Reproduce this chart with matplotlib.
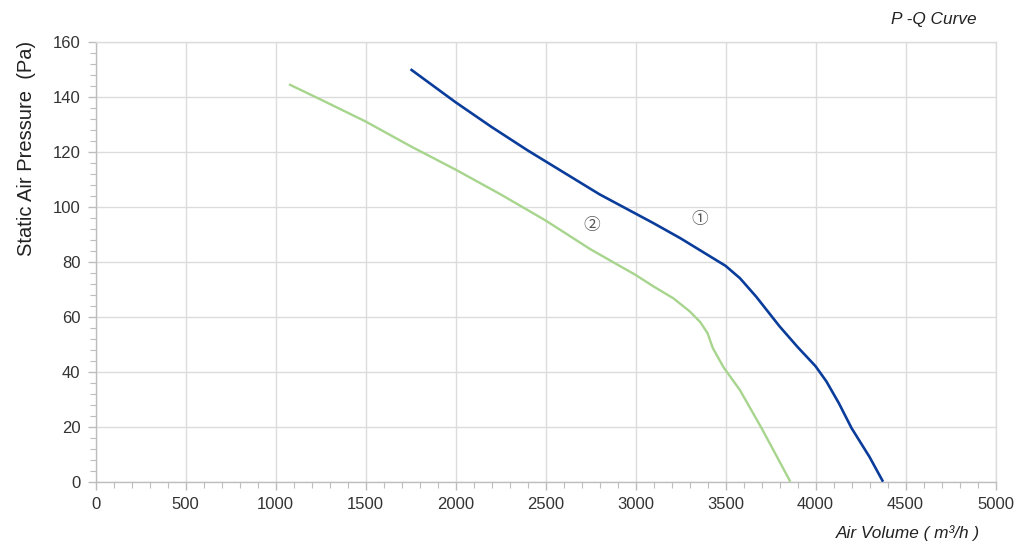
import matplotlib
matplotlib.use("Agg")
import matplotlib.pyplot as plt
from matplotlib.ticker import MultipleLocator

# Data
curve1_q = [1750, 2000, 2200, 2400, 2600, 2800, 3000, 3100, 3250, 3400, 3500, 3580, 3670, 3800, 3900, 4000, 4060, 4130, 4200, 4300, 4375]
curve1_p = [150, 138, 129, 120.5, 112.5, 104.5, 97.5, 94, 88.5, 82.5, 78.5, 74, 67.3, 56.5, 49, 42, 36.5, 28.5, 19.5, 9, 0]

curve2_q = [1075, 1250, 1500, 1750, 2000, 2250, 2500, 2750, 3000, 3100, 3210, 3300, 3360, 3400, 3430, 3490, 3580, 3700, 3860]
curve2_p = [144.5, 139, 131, 122, 113.5, 104.5, 95, 84.5, 75.2, 71, 66.7, 62, 58, 54, 48.5, 41.5, 33.3, 19.5, 0]

curve_labels = ["\u2460", "\u2461"]
label_pos_q = [3358, 2758]
label_pos_p = [95.5, 93]

x_ticks = [0, 500, 1000, 1500, 2000, 2500, 3000, 3500, 4000, 4500, 5000]
y_ticks = [0, 20, 40, 60, 80, 100, 120, 140, 160]

plt.rcParams['font.family'] = ['Liberation Sans', 'DejaVu Sans']

fig = plt.figure(figsize=(10.24, 5.48), dpi=100)
ax = fig.add_axes([0.0933, 0.121, 0.8789, 0.8029])

ax.plot(curve1_q, curve1_p, color='#0a3d9b', lw=1.9, solid_capstyle='butt',
        solid_joinstyle='round', zorder=3)
ax.plot(curve2_q, curve2_p, color='#a7d58d', lw=1.7, solid_capstyle='butt',
        solid_joinstyle='round', zorder=3)

for lab, q, p in zip(curve_labels, label_pos_q, label_pos_p):
    ax.text(q, p, lab, fontsize=12, color='#555555', ha='center', va='center',
            family=['Noto Sans CJK SC', 'DejaVu Sans'])

ax.set_xlim(0, 5000)
ax.set_ylim(0, 160)
ax.set_xticks(x_ticks)
ax.set_yticks(y_ticks)
ax.xaxis.set_minor_locator(MultipleLocator(100))
ax.yaxis.set_minor_locator(MultipleLocator(4))

ax.grid(True, which='major', color='#dcdcdc', lw=1.0)
ax.set_axisbelow(True)

for s in ['top', 'right']:
    ax.spines[s].set_color('#dcdcdc')
    ax.spines[s].set_linewidth(1.0)
for s in ['left', 'bottom']:
    ax.spines[s].set_color('#bdbdbd')
    ax.spines[s].set_linewidth(1.0)

ax.tick_params(axis='both', which='major', length=6, width=1, color='#bdbdbd',
               labelsize=12, labelcolor='#333333', pad=5)
ax.tick_params(axis='both', which='minor', length=4, width=0.8, color='#bdbdbd')

ax.set_ylabel('Static Air Pressure  (Pa)', fontsize=14.5, color='#222222')
ax.yaxis.set_label_coords(-0.066, 0.758)

fig.text(0.957, 0.0135, 'Air Volume ( m\u00b3/h )', fontsize=12.4, style='italic',
         color='#222222', ha='right', va='bottom')
fig.text(0.954, 0.95, 'P -Q Curve', fontsize=12.4, style='italic',
         color='#222222', ha='right', va='bottom')

fig.savefig('out.png', dpi=100)
